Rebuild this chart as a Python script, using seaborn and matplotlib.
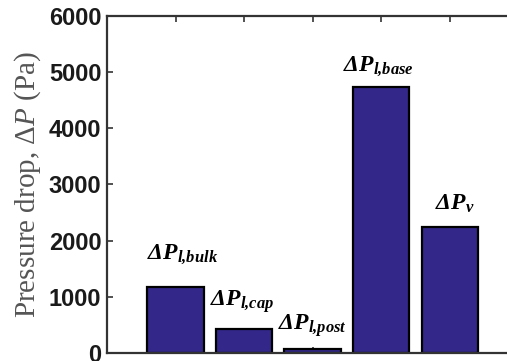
import numpy as np
import pandas as pd

import matplotlib
matplotlib.use("Agg")
import matplotlib.pyplot as plt
import seaborn as sns

# =========================================
# DATA
# =========================================

components = ["bulk", "cap", "post", "base", "v"]

pressure_drop = [1170, 430, 70, 4730, 2250]

bar_labels = [
    r"$\mathbfit{\Delta P}_{\mathbfit{l{,}bulk}}$",
    r"$\mathbfit{\Delta P}_{\mathbfit{l{,}cap}}$",
    r"$\mathbfit{\Delta P}_{\mathbfit{l{,}post}}$",
    r"$\mathbfit{\Delta P}_{\mathbfit{l{,}base}}$",
    r"$\mathbfit{\Delta P}_{\mathbfit{v}}$",
]

# label anchor (bar index, baseline value)
label_x = [-0.42, 0.51, 1.49, 2.44, 3.78]
label_y = [1690, 850, 410, 5020, 2545]

y_ticks = [0, 1000, 2000, 3000, 4000, 5000, 6000]

df = pd.DataFrame({
    "component": components,
    "dp": pressure_drop
})

# =========================================
# STYLE
# =========================================

sns.set_style("white")

plt.rcParams["mathtext.fontset"] = "custom"
plt.rcParams["mathtext.rm"] = "Liberation Serif"
plt.rcParams["mathtext.it"] = "Liberation Serif:italic"
plt.rcParams["mathtext.bf"] = "Liberation Serif:bold"
plt.rcParams["mathtext.bfit"] = "Liberation Serif:bold:italic"

# =========================================
# PLOT
# =========================================

fig = plt.figure(figsize=(5.07, 3.61), dpi=100)

ax = fig.add_axes([0.211, 0.022, 0.811, 0.934])

sns.barplot(
    data=df,
    x="component",
    y="dp",
    color="#33288a",
    saturation=1,
    width=0.82,
    edgecolor="black",
    linewidth=1.6,
    ax=ax
)

for lx, ly, txt in zip(label_x, label_y, bar_labels):
    ax.text(lx, ly, txt, fontsize=17, ha="left", va="baseline", color="black")

ax.set_xlim(-1, 5)
ax.set_ylim(0, 6000)

ax.set_yticks(y_ticks)
ax.set_yticklabels(
    [str(t) for t in y_ticks],
    fontfamily="Liberation Sans",
    fontweight="bold",
    fontsize=17,
    color="#1a1a1a"
)
ax.set_xticks(range(len(components)))
ax.set_xticklabels([])

ax.tick_params(
    axis="both",
    direction="in",
    length=4,
    width=1.2,
    color="#333333",
    top=True,
    bottom=True,
    left=True,
    pad=4
)

ax.set_xlabel("")
ax.set_ylabel(
    r"Pressure drop, $\Delta \mathit{P}$ (Pa)",
    fontfamily="Liberation Serif",
    fontsize=21,
    color="#555555",
    labelpad=4
)

for side in ["left", "bottom", "top"]:
    ax.spines[side].set_linewidth(1.6)
    ax.spines[side].set_color("#333333")
ax.spines["right"].set_visible(False)

plt.savefig("out.png", dpi=100)

plt.close()
